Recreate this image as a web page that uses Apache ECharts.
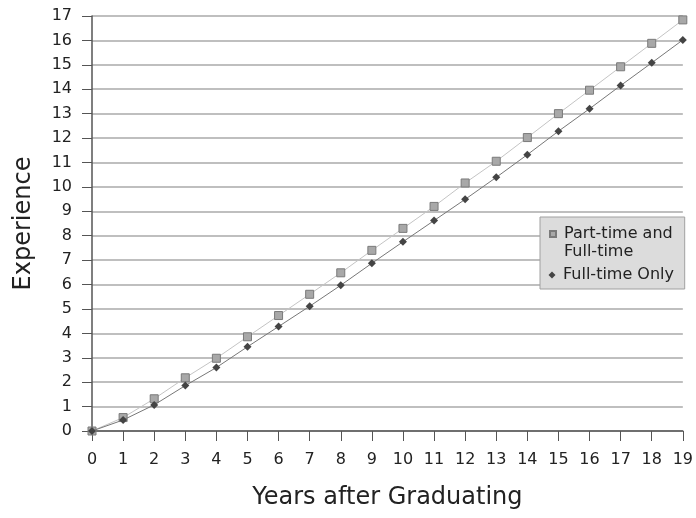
<!DOCTYPE html>
<html>
<head>
<meta charset="utf-8">
<script src="https://cdn.jsdelivr.net/npm/echarts@6/dist/echarts.min.js"></script>
<style>
html,body{margin:0;padding:0;background:#fff;}
#chart{width:696px;height:518px;}
</style>
</head>
<body>
<div id="chart"></div>
<script>
const years = [0,1,2,3,4,5,6,7,8,9,10,11,12,13,14,15,16,17,18,19];
const partTimeAndFullTime = [0,0.55,1.32,2.18,2.98,3.86,4.73,5.6,6.48,7.4,8.3,9.2,10.16,11.05,12.02,13.0,13.96,14.92,15.88,16.84];
const fullTimeOnly = [0,0.45,1.07,1.86,2.6,3.45,4.28,5.11,5.97,6.87,7.75,8.62,9.49,10.39,11.32,12.28,13.2,14.15,15.08,16.02];
const seriesNames = ['Part-time and\nFull-time','Full-time Only'];

const chart = echarts.init(document.getElementById('chart'));
const font = 'DejaVu Sans';
const legendText = {fontFamily:font,fontSize:16,color:'#222',lineHeight:18};
chart.setOption({
  animation:false,
  backgroundColor:'#fff',
  grid:{left:92,right:13,top:16,bottom:87,containLabel:false},
  legend:[
    {
      orient:'vertical',
      left:540,
      top:217,
      backgroundColor:'#dcdcdc',
      borderColor:'#a0a0a0',
      borderWidth:1,
      borderRadius:0,
      padding:[8,12,28,6],
      itemWidth:12,
      itemHeight:28,
      textStyle:legendText,
      data:[{name:seriesNames[0],icon:'path://M0 0 M3 2 L9 2 L9 8 L3 8 Z M12 28'}]
    },
    {
      orient:'vertical',
      left:546,
      top:266,
      padding:0,
      itemWidth:12,
      itemHeight:10,
      textStyle:legendText,
      data:[{name:seriesNames[1],icon:'path://M0 0 M6 1.5 L9.5 5 L6 8.5 L2.5 5 Z M12 10'}]
    }
  ],
  xAxis:{
    type:'value',min:0,max:19,interval:1,
    name:'Years after Graduating',nameLocation:'middle',nameGap:55,
    nameTextStyle:{fontFamily:font,fontSize:24,color:'#222'},
    axisLine:{show:true,lineStyle:{color:'#555',width:1.5}},
    axisTick:{show:true,length:10,lineStyle:{color:'#555'}},
    axisLabel:{fontFamily:font,fontSize:16,color:'#222',margin:21},
    splitLine:{show:false}
  },
  yAxis:{
    type:'value',min:0,max:17,interval:1,
    name:'Experience',nameLocation:'middle',nameGap:56,
    nameTextStyle:{fontFamily:font,fontSize:24,color:'#222'},
    axisLine:{show:true,lineStyle:{color:'#555',width:1.5}},
    axisTick:{show:true,length:10,lineStyle:{color:'#555'}},
    axisLabel:{fontFamily:font,fontSize:16,color:'#222',margin:20},
    splitLine:{show:true,lineStyle:{color:'#aaa',width:1.5}}
  },
  series:[
    {
      name:seriesNames[0],type:'line',
      data:years.map((x,i)=>[x,partTimeAndFullTime[i]]),
      symbol:'rect',symbolSize:8,
      lineStyle:{color:'#c4c4c4',width:1},
      itemStyle:{color:'#a8a8a8',borderColor:'#7a7a7a',borderWidth:1},
      z:2
    },
    {
      name:seriesNames[1],type:'line',
      data:years.map((x,i)=>[x,fullTimeOnly[i]]),
      symbol:'diamond',symbolSize:8,
      lineStyle:{color:'#777',width:1},
      itemStyle:{color:'#444',borderColor:'#444',borderWidth:0},
      z:3
    }
  ]
});
</script>
</body>
</html>
